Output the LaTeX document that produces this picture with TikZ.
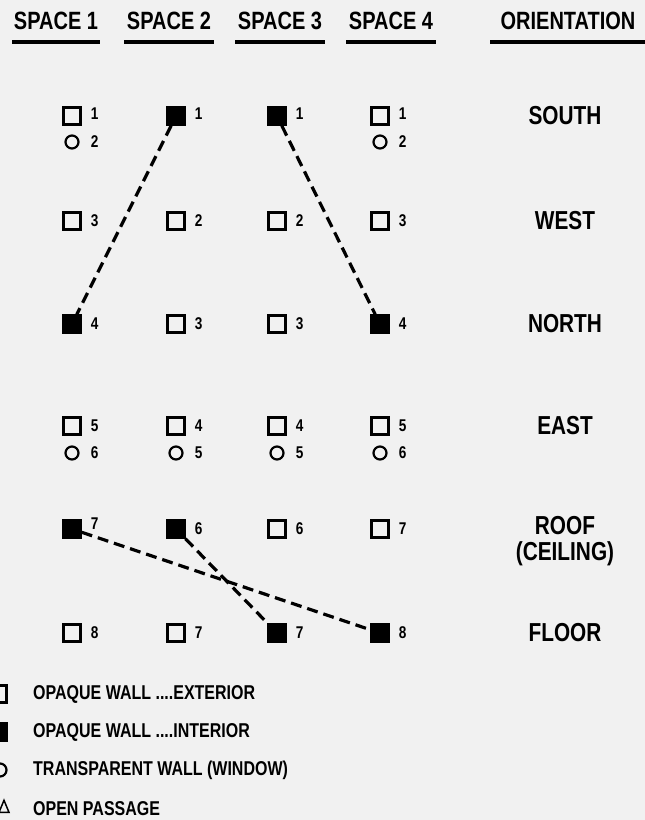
\documentclass[tikz,border=0pt]{standalone}
\usepackage{fontspec}
\setmainfont[FakeStretch=0.8]{Liberation Sans}
\usepackage{xcolor}
\usepackage{tikz}
\usetikzlibrary{positioning,shapes.geometric}

\definecolor{paper}{gray}{0.945}

\begin{document}
\begin{tikzpicture}[
  x=1pt, y=-1pt,
  ext/.style={draw, line width=2.4pt, minimum size=17pt, inner sep=0pt, fill=paper},
  int/.style={ext, fill=black},
  win/.style={draw, circle, line width=2.2pt, minimum size=13pt, inner sep=0pt},
  num/.style={inner sep=0pt, font=\fontsize{17}{17}\selectfont\bfseries},
  head/.style={inner sep=0pt, font=\fontsize{25}{25}\selectfont\bfseries},
  orient/.style={inner sep=0pt, align=center, font=\fontsize{26}{26}\selectfont\bfseries},
  legtext/.style={anchor=west, inner sep=0pt, font=\fontsize{20}{20}\selectfont\bfseries},
  uline/.style={line width=4pt},
  link/.style={line width=3.2pt, dash pattern=on 11pt off 6pt}
]
\fill[paper] (0,0) rectangle (645,820);
\useasboundingbox (0,0) rectangle (645,820);

% column heads
\node[head] (h1) at (56,21) {SPACE 1};
\node[head] (h2) at (169,21) {SPACE 2};
\node[head] (h3) at (280,21) {SPACE 3};
\node[head] (h4) at (391,21) {SPACE 4};
\node[head] (h5) at (568,21) {ORIENTATION};
\draw[uline] (12,42) -- (100,42);
\draw[uline] (124,42) -- (214,42);
\draw[uline] (235,42) -- (325,42);
\draw[uline] (346,42) -- (436,42);
\draw[uline] (490,42) -- (648,42);

% south
\node[ext] (p1S) at (72,116) {};
\node[num, right=9pt of p1S, yshift=2pt] {1};
\node[win] (p1Sw) at (72,142) {};
\node[num, right=11pt of p1Sw] {2};
\node[int] (p2S) at (176,116) {};
\node[num, right=9pt of p2S, yshift=2pt] {1};
\node[int] (p3S) at (277,116) {};
\node[num, right=9pt of p3S, yshift=2pt] {1};
\node[ext] (p4S) at (380,116) {};
\node[num, right=9pt of p4S, yshift=2pt] {1};
\node[win] (p4Sw) at (380,142) {};
\node[num, right=11pt of p4Sw] {2};

% west
\node[ext] (p1W) at (72,221) {};
\node[num, right=9pt of p1W] {3};
\node[ext] (p2W) at (176,221) {};
\node[num, right=9pt of p2W] {2};
\node[ext] (p3W) at (277,221) {};
\node[num, right=9pt of p3W] {2};
\node[ext] (p4W) at (380,221) {};
\node[num, right=9pt of p4W] {3};

% north
\node[int] (p1N) at (72,324) {};
\node[num, right=9pt of p1N] {4};
\node[ext] (p2N) at (176,324) {};
\node[num, right=9pt of p2N] {3};
\node[ext] (p3N) at (277,324) {};
\node[num, right=9pt of p3N] {3};
\node[int] (p4N) at (380,324) {};
\node[num, right=9pt of p4N] {4};

% east
\node[ext] (p1E) at (72,426) {};
\node[num, right=9pt of p1E] {5};
\node[win] (p1Ew) at (72,453) {};
\node[num, right=11pt of p1Ew] {6};
\node[ext] (p2E) at (176,426) {};
\node[num, right=9pt of p2E] {4};
\node[win] (p2Ew) at (176,453) {};
\node[num, right=11pt of p2Ew] {5};
\node[ext] (p3E) at (277,426) {};
\node[num, right=9pt of p3E] {4};
\node[win] (p3Ew) at (277,453) {};
\node[num, right=11pt of p3Ew] {5};
\node[ext] (p4E) at (380,426) {};
\node[num, right=9pt of p4E] {5};
\node[win] (p4Ew) at (380,453) {};
\node[num, right=11pt of p4Ew] {6};

% roof
\node[int] (p1R) at (72,529) {};
\node[num, right=9pt of p1R, yshift=5pt] {7};
\node[int] (p2R) at (176,529) {};
\node[num, right=9pt of p2R] {6};
\node[ext] (p3R) at (277,529) {};
\node[num, right=9pt of p3R] {6};
\node[ext] (p4R) at (380,529) {};
\node[num, right=9pt of p4R] {7};

% floor
\node[ext] (p1F) at (72,633) {};
\node[num, right=9pt of p1F] {8};
\node[ext] (p2F) at (176,633) {};
\node[num, right=9pt of p2F] {7};
\node[int] (p3F) at (277,633) {};
\node[num, right=9pt of p3F] {7};
\node[int] (p4F) at (380,633) {};
\node[num, right=9pt of p4F] {8};

% orientation
\node[orient] (oS) at (565,116) {SOUTH};
\node[orient] (oW) at (565,221) {WEST};
\node[orient] (oN) at (565,324) {NORTH};
\node[orient] (oE) at (565,426) {EAST};
\node[orient] (oR) at (565,541) {ROOF\\(CEILING)};
\node[orient] (oF) at (565,633) {FLOOR};

% links between spaces
\draw[link] (p2S) -- (p1N);
\draw[link] (p3S) -- (p4N);
\draw[link] (p1R) -- (p4F);
\draw[link] (p2R) -- (p3F);

% legend
\node[ext] (k1) at (-2,694) {};
\node[legtext] (t1) at (33,694) {OPAQUE WALL ....EXTERIOR};
\node[int] (k2) at (-2,732) {};
\node[legtext] (t2) at (33,732) {OPAQUE WALL ....INTERIOR};
\node[win] (k3) at (0,770) {};
\node[legtext] (t3) at (33,770) {TRANSPARENT WALL (WINDOW)};
\node[draw, isosceles triangle, shape border rotate=90, line width=1.5pt,
  minimum width=10pt, minimum height=9pt, inner sep=0pt] (k4) at (4,809) {};
\node[legtext] (t4) at (33,809) {OPEN PASSAGE};
\end{tikzpicture}
\end{document}
